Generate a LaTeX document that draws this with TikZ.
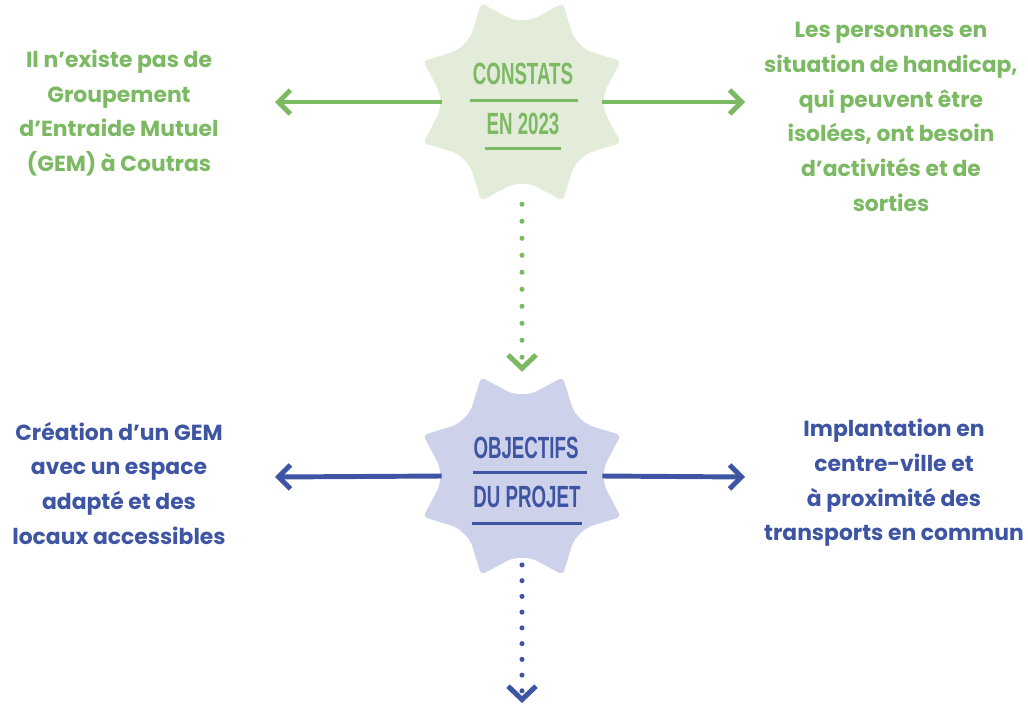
\documentclass[tikz,border=0pt]{standalone}
\usepackage{fontspec}
\usepackage{xcolor}
\setmainfont{Poppins}
\newfontfamily\titlefont{Liberation Sans}[FakeStretch=0.61]
\usetikzlibrary{arrows.meta,calc}

\definecolor{vert}{HTML}{7BB962}
\definecolor{vertclair}{HTML}{E2ECD8}
\definecolor{bleu}{HTML}{3E55A4}
\definecolor{bleuclair}{HTML}{CED1EA}

% star with rounded tips, drawn round a named node
\newcommand{\etoile}[2]{%
  \fill[#2,shift={(#1.center)}] [rounded corners=13pt] (0:77)
    \foreach \a in {0,45,...,270}{ [rounded corners=3pt] -- (\a+22.5:107) [rounded corners=13pt] -- (\a+45:77)}
    [rounded corners=3pt] -- (337.5:107) [rounded corners=13pt] -- cycle;}

\begin{document}
\begin{tikzpicture}[x=0.75pt,y=-0.75pt,
    texte/.style={align=center,font=\bfseries\fontsize{16.4pt}{26pt}\selectfont},
    titre/.style={inner sep=0pt,font=\titlefont\bfseries\fontsize{23pt}{23pt}\selectfont},
    souligne/.style={line width=2.2pt},
    fleche/.style={line width=3.7pt,-{Straight Barb[length=9pt,width=18pt]}},
    pointilles/.style={line width=3.8pt,line cap=round,dash pattern=on 0pt off 12.75pt,-{Straight Barb[length=10pt,width=21pt]}},
    zone/.style={circle,minimum size=120pt,inner sep=0pt}]
  \useasboundingbox (0,0) rectangle (1028,708);

  % constats
  \node[zone] (constats) at (522,102) {};
  \etoile{constats}{vertclair}
  \node[titre,text=vert] (constats1) at (523,74) {CONSTATS};
  \node[titre,text=vert] (constats2) at (523,124) {EN 2023};
  \draw[souligne,vert] ($(constats1.south west)+(-3,15)$) -- ($(constats1.south east)+(5,15)$);
  \draw[souligne,vert] ($(constats2.south west)+(-1,13)$) -- ($(constats2.south east)+(1,13)$);

  \node[texte,text=vert] (constatg) at (119,113) {Il n’existe pas de\\Groupement\\d’Entraide Mutuel\\(GEM) à Coutras};
  \node[texte,text=vert] (constatd) at (891,117) {Les personnes en\\situation de handicap,\\qui peuvent être\\isolées, ont besoin\\d’activités et de\\sorties};
  \coordinate (flecheg1) at (275,102);
  \coordinate (fleched1) at (745,102);
  \draw[fleche,vert] (constats.west) -- (flecheg1);
  \draw[fleche,vert] (constats.east) -- (fleched1);

  % objectifs
  \node[zone] (objectifs) at (522,476) {};
  \etoile{objectifs}{bleuclair}
  \node[titre,text=bleu] (objectifs1) at (526,448) {OBJECTIFS};
  \node[titre,text=bleu] (objectifs2) at (527,497) {DU PROJET};
  \draw[souligne,bleu] ($(objectifs1.south west)+(0,13)$) -- ($(objectifs1.south east)+(8,13)$);
  \draw[souligne,bleu] ($(objectifs2.south west)+(-1,15)$) -- ($(objectifs2.south east)+(1,15)$);

  \node[texte,text=bleu] (objectifg) at (119,483) {Création d’un GEM\\avec un espace\\adapté et des\\locaux accessibles};
  \node[texte,text=bleu] (objectifd) at (894,483) {Implantation en\\centre-ville et\\à proximité des\\transports en commun};
  \coordinate (flecheg2) at (275,477);
  \coordinate (fleched2) at (745,477);
  \draw[fleche,bleu] (objectifs.west) -- (flecheg2);
  \draw[fleche,bleu] (objectifs.east) -- (fleched2);

  % liens verticaux
  \draw[pointilles,vert,shorten <=16.5pt,shorten >=18pt] (constats) -- (objectifs);
  \coordinate (suite) at (522,703);
  \draw[pointilles,bleu,dash pattern=on 0pt off 11.8pt,shorten <=6.5pt] (objectifs.south) -- (suite);
\end{tikzpicture}
\end{document}
